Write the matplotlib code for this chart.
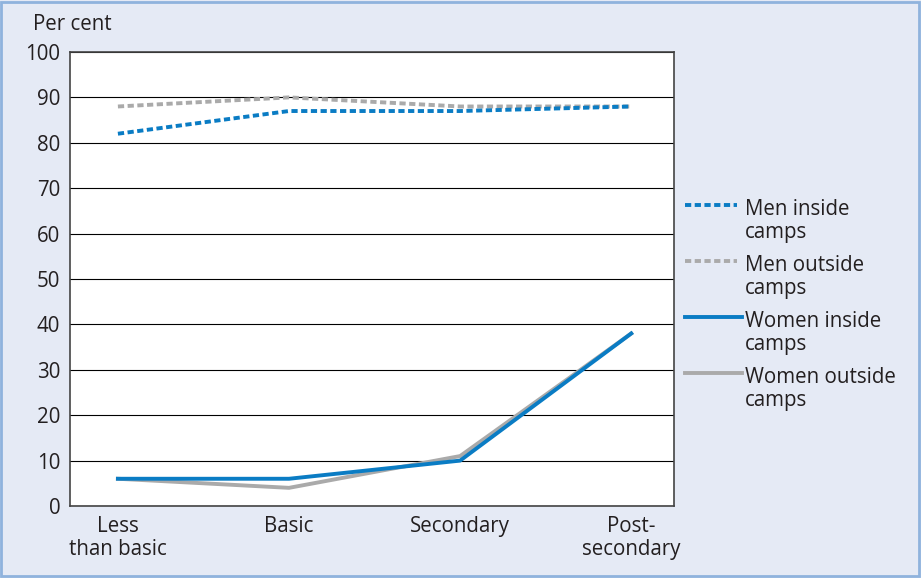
import matplotlib.pyplot as plt
from matplotlib.lines import Line2D
from matplotlib.patches import Rectangle

plt.rcParams['font.family'] = ['Open Sans', 'DejaVu Sans']

categories = ['Less\nthan basic', 'Basic', 'Secondary', 'Post-\nsecondary']
men_inside = [82, 87, 87, 88]
men_outside = [88, 90, 88, 88]
women_inside = [6, 6, 10, 38]
women_outside = [6, 4, 11, 38]
yticks = list(range(0, 101, 10))

BLUE = '#0a7cc4'
GREY = '#aaaaaa'
BG = '#e5eaf5'
TXT = '#231f20'
FS = 14.8
DASH = (0, (1.6, 0.9))

fig = plt.figure(figsize=(9.21, 5.78), dpi=100, facecolor=BG)
fig.patches.append(Rectangle((0.001, 0.003), 0.997, 0.994, transform=fig.transFigure,
                             fill=False, edgecolor='#8fb3dd', linewidth=2))

ax = fig.add_axes([70 / 921, 1 - 506 / 578, (674 - 70) / 921, (506 - 52) / 578])
ax.set_facecolor('white')
x = range(len(categories))

series = [
    ('Men inside', 'camps', men_inside, BLUE, DASH, 4),
    ('Men outside', 'camps', men_outside, GREY, DASH, 3),
    ('Women inside', 'camps', women_inside, BLUE, '-', 4),
    ('Women outside', 'camps', women_outside, GREY, '-', 3),
]
for l1, l2, vals, col, ls, z in series:
    ax.plot(x, vals, color=col, lw=2.8, ls=ls, zorder=z)

ax.set_xlim(-0.28, 3.25)
ax.set_ylim(0, 100)
ax.set_yticks(yticks)
ax.set_xticks(list(x))
ax.set_xticklabels(categories, fontsize=FS, color=TXT, linespacing=1.15)
ax.tick_params(axis='y', labelsize=FS, labelcolor=TXT, length=0, pad=7)
ax.tick_params(axis='x', length=0, pad=7)
ax.grid(axis='y', color='black', lw=0.8)
ax.set_axisbelow(True)
for s in ax.spines.values():
    s.set_color('#444444')
    s.set_linewidth(1.2)

fig.text(33 / 921, 1 - 25 / 578, 'Per cent', fontsize=FS, color=TXT, va='center')

# legend drawn by hand: handle sits on the first text line
for i, (l1, l2, vals, col, ls, z) in enumerate(series):
    base = 215 + 56 * i
    x1 = 737 if ls == DASH else 742
    fig.add_artist(Line2D([685 / 921, x1 / 921], [1 - (base - 10) / 578] * 2,
                          transform=fig.transFigure, color=col, lw=2.8, ls=ls))
    fig.text(745 / 921, 1 - base / 578, l1, fontsize=FS, color=TXT, va='baseline')
    fig.text(745 / 921, 1 - (base + 23) / 578, l2, fontsize=FS, color=TXT, va='baseline')

fig.savefig('out.png', dpi=100, facecolor=BG)
